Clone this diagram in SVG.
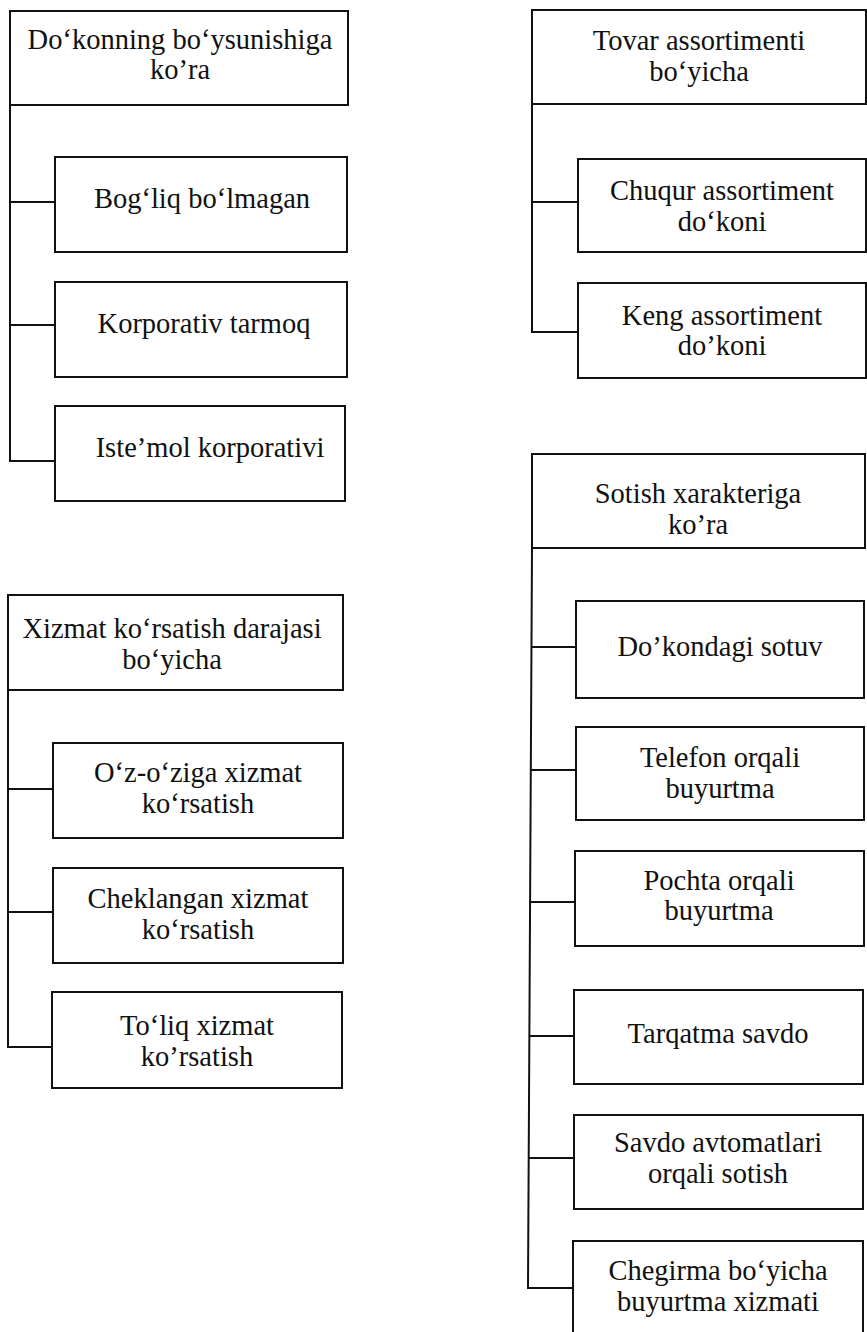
<svg xmlns="http://www.w3.org/2000/svg" width="867" height="1332" viewBox="0 0 867 1332">
<style>
  .box { fill: #ffffff; stroke: #111111; stroke-width: 2; }
  .ln { fill: none; stroke: #111111; stroke-width: 2; }
  text { font-family: "Liberation Serif", "Times New Roman", serif; font-size: 28.5px; fill: #111111; text-anchor: middle; }
</style>
<rect x="0" y="0" width="867" height="1332" fill="#ffffff"/>

<g id="connectors">
  <polyline class="ln" points="10,105 10,461 55,461"/>
  <line class="ln" x1="10" y1="202" x2="55" y2="202"/>
  <line class="ln" x1="10" y1="325" x2="55" y2="325"/>
  <polyline class="ln" points="532,104 532,332 578,332"/>
  <line class="ln" x1="532" y1="202" x2="578" y2="202"/>
  <polyline class="ln" points="8,690 8,1047 53,1047"/>
  <line class="ln" x1="8" y1="789" x2="53" y2="789"/>
  <line class="ln" x1="8" y1="912" x2="53" y2="912"/>
  <polyline class="ln" points="532,548 528,1288 573,1288"/>
  <line class="ln" x1="531.5" y1="647" x2="576" y2="647"/>
  <line class="ln" x1="531" y1="770" x2="576" y2="770"/>
  <line class="ln" x1="530.5" y1="902" x2="575" y2="902"/>
  <line class="ln" x1="529.8" y1="1036" x2="574" y2="1036"/>
  <line class="ln" x1="529" y1="1158" x2="574" y2="1158"/>
</g>

<g id="hdr-dokon">
  <rect class="box" x="10" y="11" width="338" height="94"/>
  <text x="180" y="49">Do‘konning bo‘ysunishiga</text>
  <text x="180" y="79">ko’ra</text>
</g>
<g id="n-bogliq">
  <rect class="box" x="55" y="157" width="292" height="95"/>
  <text x="202" y="208">Bog‘liq bo‘lmagan</text>
</g>
<g id="n-korporativ">
  <rect class="box" x="55" y="282" width="292" height="95"/>
  <text x="204" y="333">Korporativ tarmoq</text>
</g>
<g id="n-istemol">
  <rect class="box" x="55" y="406" width="290" height="95"/>
  <text x="210" y="457">Iste’mol korporativi</text>
</g>

<g id="hdr-tovar">
  <rect class="box" x="532" y="10" width="334" height="94"/>
  <text x="699" y="50">Tovar assortimenti</text>
  <text x="699" y="81">bo‘yicha</text>
</g>
<g id="n-chuqur">
  <rect class="box" x="578" y="159" width="288" height="93"/>
  <text x="722" y="200">Chuqur assortiment</text>
  <text x="722" y="231">do‘koni</text>
</g>
<g id="n-keng">
  <rect class="box" x="578" y="283" width="288" height="95"/>
  <text x="722" y="325">Keng assortiment</text>
  <text x="722" y="355">do’koni</text>
</g>

<g id="hdr-xizmat">
  <rect class="box" x="8" y="595" width="335" height="95"/>
  <text x="172" y="638">Xizmat ko‘rsatish darajasi</text>
  <text x="172" y="669">bo‘yicha</text>
</g>
<g id="n-ozozi">
  <rect class="box" x="53" y="743" width="290" height="95"/>
  <text x="198" y="782">O‘z-o‘ziga xizmat</text>
  <text x="198" y="813">ko‘rsatish</text>
</g>
<g id="n-cheklangan">
  <rect class="box" x="53" y="868" width="290" height="95"/>
  <text x="198" y="908">Cheklangan xizmat</text>
  <text x="198" y="939">ko‘rsatish</text>
</g>
<g id="n-toliq">
  <rect class="box" x="52" y="992" width="290" height="96"/>
  <text x="197" y="1035">To‘liq xizmat</text>
  <text x="197" y="1066">ko’rsatish</text>
</g>

<g id="hdr-sotish">
  <rect class="box" x="532" y="454" width="333" height="94"/>
  <text x="698" y="503">Sotish xarakteriga</text>
  <text x="698" y="534">ko’ra</text>
</g>
<g id="n-dokondagi">
  <rect class="box" x="576" y="601" width="288" height="97"/>
  <text x="720" y="656">Do’kondagi sotuv</text>
</g>
<g id="n-telefon">
  <rect class="box" x="576" y="727" width="288" height="93"/>
  <text x="720" y="767">Telefon orqali</text>
  <text x="720" y="798">buyurtma</text>
</g>
<g id="n-pochta">
  <rect class="box" x="575" y="851" width="289" height="95"/>
  <text x="719" y="890">Pochta orqali</text>
  <text x="719" y="920">buyurtma</text>
</g>
<g id="n-tarqatma">
  <rect class="box" x="574" y="990" width="289" height="94"/>
  <text x="718" y="1043">Tarqatma savdo</text>
</g>
<g id="n-savdo">
  <rect class="box" x="574" y="1115" width="289" height="94"/>
  <text x="718" y="1152">Savdo avtomatlari</text>
  <text x="718" y="1183">orqali sotish</text>
</g>
<g id="n-chegirma">
  <rect class="box" x="573" y="1241" width="290" height="100"/>
  <text x="718" y="1280">Chegirma bo‘yicha</text>
  <text x="718" y="1311">buyurtma xizmati</text>
</g>
</svg>
